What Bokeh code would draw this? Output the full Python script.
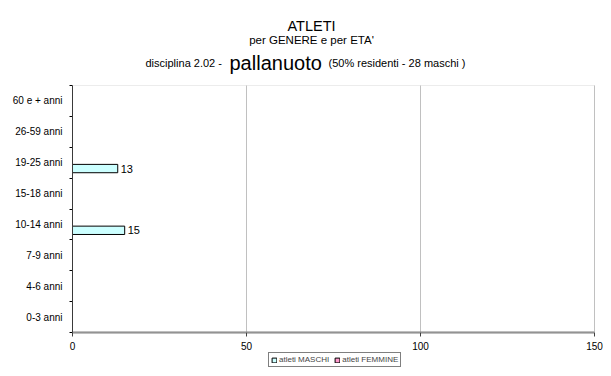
from bokeh.plotting import figure
from bokeh.models import (ColumnDataSource, FixedTicker, Range1d, Legend, LegendItem, Label,
                          BoxAnnotation)
from bokeh.transform import dodge
from bokeh.core.properties import value
from bokeh.embed import file_html
from bokeh.resources import INLINE

categories = ["0-3 anni", "4-6 anni", "7-9 anni", "10-14 anni",
              "15-18 anni", "19-25 anni", "26-59 anni", "60 e + anni"]
maschi = [0, 0, 0, 15, 0, 13, 0, 0]
femmine = [0, 0, 0, 0, 0, 0, 0, 0]
x_ticks = [0, 50, 100, 150]
series_names = ["atleti MASCHI", "atleti FEMMINE"]
title_line1 = "ATLETI"
title_line2 = "per GENERE e per ETA'"
subtitle_parts = ["disciplina 2.02 - ", "pallanuoto", "(50% residenti - 28 maschi )"]

FONT = "Liberation Sans"
W, H = 603, 368
PLOT_LEFT, PLOT_RIGHT = 72, 594   # pixel columns of the plot area
PLOT_TOP, PLOT_BOTTOM = 85, 332   # pixel rows of the plot area
XMAX = 150
NCAT = len(categories)

XUNIT = (PLOT_RIGHT - PLOT_LEFT) / XMAX
X_START = -PLOT_LEFT / XUNIT
X_END = XMAX + (W - PLOT_RIGHT) / XUNIT
YUNIT = (PLOT_BOTTOM - PLOT_TOP) / NCAT
Y_START = -(H - PLOT_BOTTOM) / YUNIT
Y_END = NCAT + PLOT_TOP / YUNIT

# the frame covers the whole figure; the axes are pinned at the plot-area edges
p = figure(width=W, height=H, output_backend="svg", toolbar_location=None,
           x_range=Range1d(X_START, X_END), y_range=Range1d(Y_START, Y_END),
           min_border_left=0, min_border_right=0, min_border_top=0, min_border_bottom=0)
p.background_fill_color = "white"
p.border_fill_color = "white"
p.outline_line_color = None

def fx(px):
    return X_START + px / XUNIT
def fy(py):
    return Y_END - py / YUNIT

# border of the plot area
p.add_layout(BoxAnnotation(left=0, right=XMAX, bottom=0, top=NCAT, fill_color=None,
                           line_color="#c0c0c0", line_width=1))

# vertical gridlines limited to the plot area
try:
    p.xgrid.cross_bounds = (0, NCAT)
    p.xgrid.ticker = FixedTicker(ticks=x_ticks[1:])
    p.xgrid.grid_line_color = "#c0c0c0"
except AttributeError:
    p.xgrid.grid_line_color = None
    p.segment(x0=x_ticks[1:], x1=x_ticks[1:], y0=[0] * (len(x_ticks) - 1),
              y1=[NCAT] * (len(x_ticks) - 1), line_color="#c0c0c0", line_width=1)
p.ygrid.grid_line_color = None

pos = [i + 0.5 for i in range(NCAT)]
src = ColumnDataSource(dict(pos=pos, cat=categories, maschi=maschi, femmine=femmine))

BAR_H = 0.27
OFF = 0.19
r_m = p.hbar(y=dodge("pos", -OFF, range=p.y_range), left=0, right="maschi", height=BAR_H,
             source=src, fill_color="#CCFFFF", line_color="black", line_width=1)
r_f = p.hbar(y=dodge("pos", OFF, range=p.y_range), left=0, right="femmine", height=BAR_H,
             source=src, fill_color="#FF99CC", line_color="black", line_width=1)

# value labels for non-zero bars
lab_x = [v for v in maschi if v > 0]
lab_y = [pp for pp, v in zip(pos, maschi) if v > 0]
lab_t = [str(v) for v in maschi if v > 0]
lsrc = ColumnDataSource(dict(x=lab_x, y=lab_y, t=lab_t))
p.text(x="x", y=dodge("y", -OFF, range=p.y_range), text="t", source=lsrc, x_offset=3,
       text_baseline="middle", text_align="left", text_font=value(FONT),
       text_font_size="11px", text_color="black")

# x axis
p.xaxis.fixed_location = 0
p.xaxis.bounds = (0, XMAX)
p.xaxis.ticker = FixedTicker(ticks=x_ticks)
p.xaxis.axis_line_color = "#808080"
p.xaxis.axis_line_width = 2
p.xaxis.major_tick_line_color = "#404040"
p.xaxis.major_tick_out = 4
p.xaxis.major_tick_in = 0
p.xaxis.minor_tick_line_color = None
p.xaxis.major_label_text_font = FONT
p.xaxis.major_label_text_font_size = "10px"
p.xaxis.major_label_text_color = "black"
p.xaxis.major_label_standoff = 5

# y axis (categories), ticks between categories
p.yaxis.fixed_location = 0
p.yaxis.bounds = (0, NCAT)
p.yaxis.ticker = FixedTicker(ticks=pos, minor_ticks=list(range(NCAT + 1)))
p.yaxis.major_label_overrides = {pp: c for pp, c in zip(pos, categories)}
p.yaxis.axis_line_color = "black"
p.yaxis.major_tick_out = 0
p.yaxis.major_tick_in = 0
p.yaxis.minor_tick_out = 3
p.yaxis.minor_tick_in = 0
p.yaxis.minor_tick_line_color = "black"
p.yaxis.major_label_text_font = FONT
p.yaxis.major_label_text_font_size = "10px"
p.yaxis.major_label_text_color = "black"
p.yaxis.major_label_standoff = 7

# titles above the plot area
def add_title(txt, px, py, size, align):
    p.add_layout(Label(x=fx(px), y=fy(py), text=txt, text_font=FONT, text_font_size=size,
                       text_align=align, text_baseline="alphabetic", text_color="black"))

add_title(title_line1, 311, 25, "14.5px", "center")
add_title(title_line2, 311, 39, "11.5px", "center")
add_title(subtitle_parts[0], 145, 62, "11px", "left")
add_title(subtitle_parts[1], 229, 62, "20px", "left")
add_title(subtitle_parts[2], 328, 62, "11px", "left")

legend = Legend(items=[LegendItem(label=series_names[0], renderers=[r_m]),
                       LegendItem(label=series_names[1], renderers=[r_f])],
                orientation="horizontal", location=(268, 1),
                glyph_width=6, glyph_height=6, label_text_font=FONT,
                label_text_font_size="8px", label_height=8, label_standoff=2,
                padding=2, spacing=5, margin=0, border_line_color="black",
                border_line_width=1, background_fill_color="white")
p.add_layout(legend)

open("out.html", "w").write(file_html(p, INLINE))
